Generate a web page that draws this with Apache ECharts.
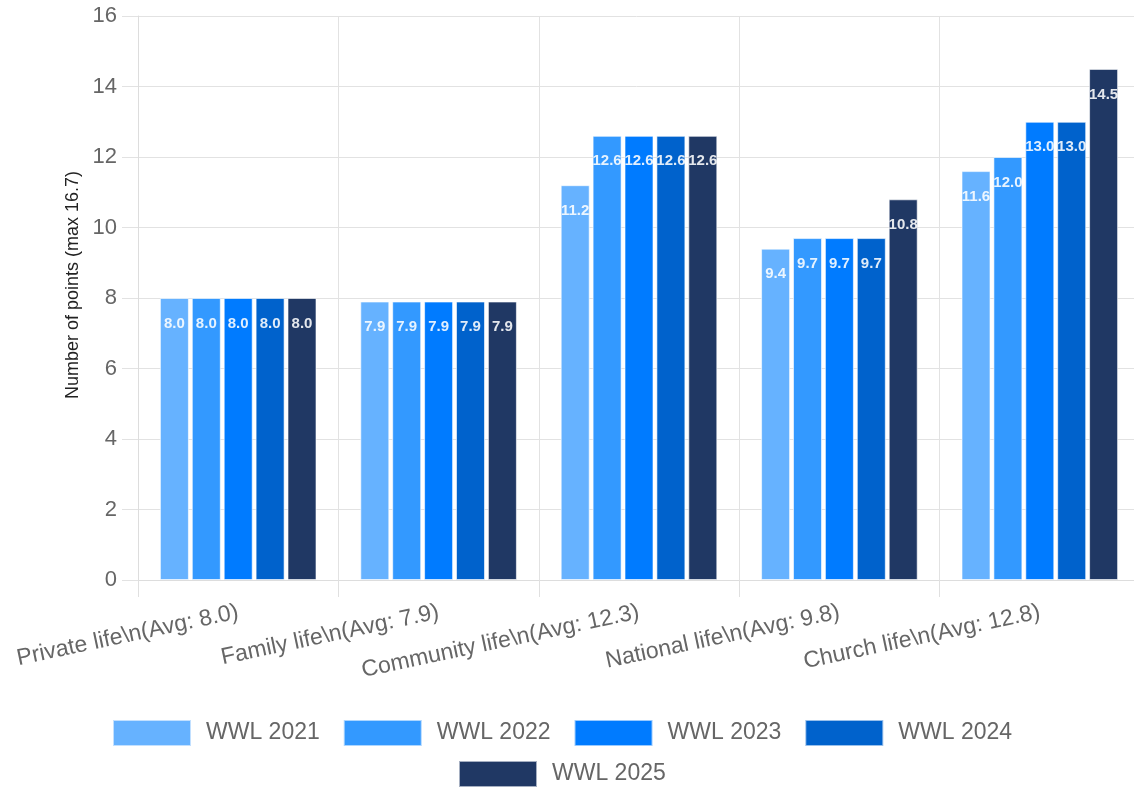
<!DOCTYPE html>
<html>
<head>
<meta charset="utf-8">
<script src="https://cdn.jsdelivr.net/npm/echarts@6/dist/echarts.min.js"></script>
<style>
  html, body { margin: 0; padding: 0; background: #fff; }
  #main { width: 1134px; height: 791px; }
</style>
</head>
<body>
<div id="main"></div>
<script>
var categories = [
  'Private life\\n(Avg: 8.0)',
  'Family life\\n(Avg: 7.9)',
  'Community life\\n(Avg: 12.3)',
  'National life\\n(Avg: 9.8)',
  'Church life\\n(Avg: 12.8)'
];
var seriesNames = ['WWL 2021', 'WWL 2022', 'WWL 2023', 'WWL 2024', 'WWL 2025'];
var wwl2021 = [8.0, 7.9, 11.2, 9.4, 11.6];
var wwl2022 = [8.0, 7.9, 12.6, 9.7, 12.0];
var wwl2023 = [8.0, 7.9, 12.6, 9.7, 13.0];
var wwl2024 = [8.0, 7.9, 12.6, 9.7, 13.0];
var wwl2025 = [8.0, 7.9, 12.6, 10.8, 14.5];
var colors = ['#66b2ff', '#3399ff', '#007bff', '#0062cc', '#203864'];
var yTicks = [0, 2, 4, 6, 8, 10, 12, 14, 16];

var allData = [wwl2021, wwl2022, wwl2023, wwl2024, wwl2025];

var myChart = echarts.init(document.getElementById('main'));

var series = seriesNames.map(function (name, i) {
  return {
    name: name,
    type: 'bar',
    data: allData[i],
    barWidth: 29,
    barGap: '10%',
    itemStyle: { color: colors[i], borderColor: 'rgba(255,255,255,0.6)', borderWidth: 1 },
    label: {
      show: true,
      position: 'insideTop',
      distance: 18,
      color: 'rgba(255,255,255,0.88)',
      fontWeight: 'bold',
      fontSize: 15,
      fontFamily: 'Arial, Liberation Sans, sans-serif',
      formatter: function (p) { return p.value.toFixed(1); }
    }
  };
});

var legendCommon = {
  icon: 'rect',
  padding: 0,
  itemWidth: 78,
  itemHeight: 26,
  itemGap: 23,
  textStyle: { fontSize: 23, color: '#666', padding: [0, 0, 0, 10] }
};

myChart.setOption({
  animation: false,
  textStyle: { fontFamily: 'Arial, Liberation Sans, sans-serif' },
  grid: { left: 138, width: 1002, top: 16, bottom: 211, containLabel: false, outerBoundsMode: 'none' },
  legend: [
    Object.assign({ data: seriesNames.slice(0, 4), top: 719, left: 112 }, legendCommon),
    Object.assign({ data: seriesNames.slice(4), top: 760, left: 458 }, legendCommon)
  ],
  xAxis: {
    type: 'category',
    data: categories,
    axisLine: { show: true, lineStyle: { color: '#ddd' } },
    axisTick: { show: true, length: 17, lineStyle: { color: '#e0e0e0' } },
    splitLine: { show: true, lineStyle: { color: '#e2e2e2' } },
    axisLabel: { rotate: 12, fontSize: 23, color: '#666', margin: 32, interval: 0 }
  },
  yAxis: {
    type: 'value',
    min: yTicks[0],
    max: yTicks[yTicks.length - 1],
    interval: 2,
    name: 'Number of points (max 16.7)',
    nameLocation: 'middle',
    nameGap: 56,
    nameTextStyle: { fontSize: 18, color: '#222', padding: [0, 0, 0, 26] },
    axisLine: { show: true, lineStyle: { color: '#ddd' } },
    axisTick: { show: true, length: 16, lineStyle: { color: '#e2e2e2' } },
    splitLine: { show: true, lineStyle: { color: '#e2e2e2' } },
    axisLabel: { fontSize: 22, color: '#666', margin: 21 }
  },
  series: series
});
</script>
</body>
</html>
